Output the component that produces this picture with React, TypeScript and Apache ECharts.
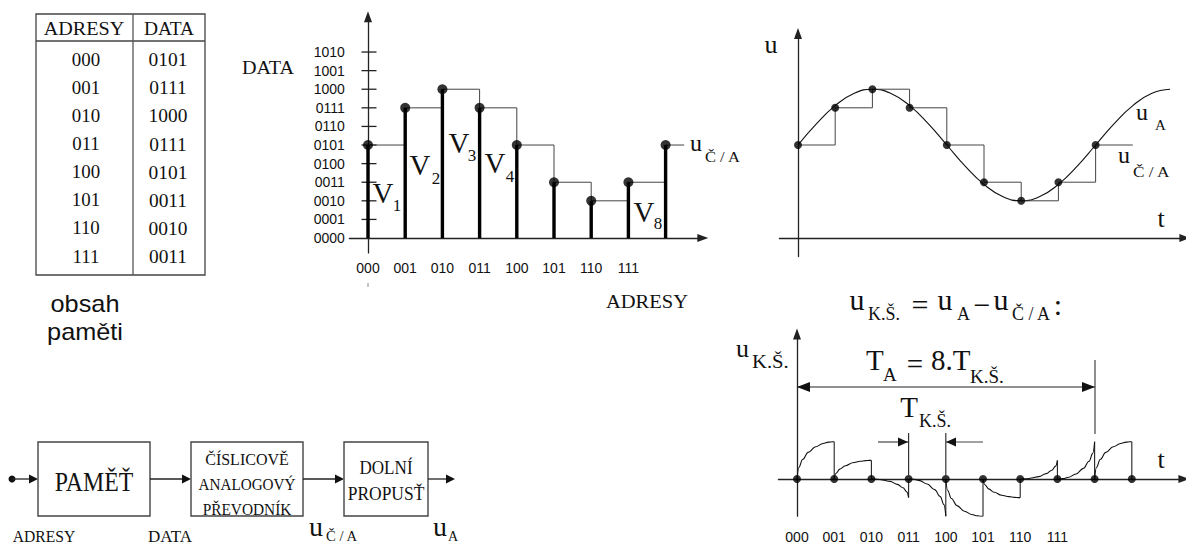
import React, { useEffect, useRef } from 'react';
import * as echarts from 'echarts';

// ---------------- data ----------------
const addresses = ['000', '001', '010', '011', '100', '101', '110', '111'];
const dataCodes = ['0101', '0111', '1000', '0111', '0101', '0011', '0010', '0011'];
const dataTickLabels = ['0000', '0001', '0010', '0011', '0100', '0101', '0110', '0111', '1000', '1001', '1010'];
const sampleTimes = [0, 1, 2, 3, 4, 5, 6, 7, 8];
const sampleValues = [5, 7, 8, 7, 5, 3, 2, 3, 5];
const stemTailTime = 8.5;
const dacTailTime = 9;
const sineTimes = [0, 0.5, 1, 1.5, 2, 2.5, 3, 3.5, 4, 4.5, 5, 5.5, 6, 6.5, 7, 7.5, 8, 8.5, 9, 9.5, 10];
const sineValues = [5, 6.15, 7.12, 7.77, 8, 7.77, 7.12, 6.15, 5, 3.85, 2.88, 2.23, 2, 2.23, 2.88, 3.85, 5, 6.15, 7.12, 7.77, 8];
const errOffsets = [0, 0.05, 0.15, 0.3, 0.5, 0.7, 0.85, 0.95, 1];
const errSeg0 = [0, 0.62, 1.05, 1.43, 1.73, 1.91, 1.98, 2.0, 2.0];
const errSeg1 = [0, 0.31, 0.53, 0.71, 0.87, 0.95, 0.99, 1.0, 1.0];
const errSeg2 = [0, 0, -0.01, -0.05, -0.13, -0.29, -0.47, -0.69, -1.0];
const errSeg3 = [0, 0, -0.02, -0.09, -0.27, -0.57, -0.95, -1.38, -2.0];
const errSeg4 = [0, -0.62, -1.05, -1.43, -1.73, -1.91, -1.98, -2.0, -2.0];
const errSeg5 = [0, -0.31, -0.53, -0.71, -0.87, -0.95, -0.99, -1.0, -1.0];
const errSeg6 = [0, 0, 0.01, 0.05, 0.13, 0.29, 0.47, 0.69, 1.0];
const errSeg7 = [0, 0, 0.02, 0.09, 0.27, 0.57, 0.95, 1.38, 2.0];
const errSeg8 = [0, 0.62, 1.05, 1.43, 1.73, 1.91, 1.98, 2.0, 2.0];
const errSegments = [errSeg0, errSeg1, errSeg2, errSeg3, errSeg4, errSeg5, errSeg6, errSeg7, errSeg8];
const errDotTimes = [0, 1, 2, 3, 4, 5, 6, 7, 8, 9];

// ---------------- styling helpers ----------------
const SERIF = '"Liberation Serif", "Times New Roman", serif';
const SANS = '"Liberation Sans", Arial, sans-serif';
const INK = '#111';
const LINE = '#333';

function T(text: string, x: number, y: number, size: number, o: any = {}) {
  const align = o.align ?? 'center';
  return {
    type: 'text', x, y, scaleX: o.sx ?? 1, silent: true, z: 100,
    style: {
      text, x: 0, y: 0, fill: INK, fontFamily: o.family ?? SERIF, fontSize: size,
      align, verticalAlign: 'middle', textAlign: align, textVerticalAlign: 'middle',
    },
  };
}
function L(x1: number, y1: number, x2: number, y2: number, w = 1.2, c = LINE) {
  return { type: 'line', silent: true, z: 100, shape: { x1, y1, x2, y2 }, style: { stroke: c, lineWidth: w } };
}
function arrowR(tx: number, ty: number, len = 9, h = 4.5) {
  return { type: 'polygon', silent: true, z: 100, shape: { points: [[tx, ty], [tx - len, ty - h], [tx - len, ty + h]] }, style: { fill: INK } };
}
function arrowL(tx: number, ty: number, len = 9, h = 4.5) {
  return { type: 'polygon', silent: true, z: 100, shape: { points: [[tx, ty], [tx + len, ty - h], [tx + len, ty + h]] }, style: { fill: INK } };
}
function R(x: number, y: number, w: number, h: number, lw = 1.4) {
  return { type: 'rect', silent: true, z: 100, shape: { x, y, width: w, height: h }, style: { fill: 'transparent', stroke: '#444', lineWidth: lw } };
}

function buildGraphic() {
  const g: any[] = [];
  // ---- memory table ----
  g.push(R(36, 14, 169, 261, 1.3));
  g.push(L(36, 41, 205, 41, 1.6, '#444'));
  g.push(L(133, 14, 133, 275, 1.3, '#555'));
  g.push(T('ADRESY', 84, 29, 18, { sx: 1.12 }));
  g.push(T('DATA', 169, 29, 18, { sx: 1.08 }));
  addresses.forEach((a, i) => {
    g.push(T(a, 86, 60 + i * 28.1, 18, { sx: 1.05 }));
    g.push(T(dataCodes[i], 168, 60 + i * 28.1, 18, { sx: 1.08 }));
  });
  g.push(T('obsah', 85, 303.5, 23, { family: SANS, sx: 1.1 }));
  g.push(T('paměti', 85, 332, 23, { family: SANS, sx: 1.1 }));

  // ---- stem chart labels ----
  g.push(T('DATA', 268, 68, 18, { sx: 1.12 }));
  g.push(T('ADRESY', 647, 301, 19, { sx: 1.08 }));
  g.push(L(368, 283, 368, 287, 1, '#888'));
  const vl = [['1', 383, 193, 397, 205], ['2', 420, 165, 436, 178], ['3', 459, 143, 472, 155], ['4', 495, 163, 510, 176], ['8', 644, 212, 658, 223]];
  vl.forEach((v: any) => {
    g.push(T('V', v[1], v[2], 29));
    g.push(T(v[0], v[3], v[4], 17));
  });
  g.push(T('u', 696, 142.5, 24));
  g.push(T('Č / A', 705, 157, 15, { align: 'left', sx: 1.1 }));

  // ---- sine chart labels ----
  g.push(T('u', 771, 44, 26));
  g.push(T('t', 1161, 218, 26));
  g.push(T('u', 1142, 111.5, 24));
  g.push(T('A', 1155, 125, 15, { align: 'left' }));
  g.push(T('u', 1124, 154.5, 24));
  g.push(T('Č / A', 1133, 172, 15, { align: 'left', sx: 1.15 }));

  // ---- error chart labels ----
  g.push(T('u', 857, 299, 30));
  g.push(T('K.Š.', 868, 314, 18, { align: 'left' }));
  g.push(T('=', 920, 304, 30));
  g.push(T('u', 945, 299, 30));
  g.push(T('A', 957, 314, 18, { align: 'left' }));
  g.push(T('−', 982, 304, 30));
  g.push(T('u', 1001, 299, 30));
  g.push(T('Č / A', 1012, 314, 18, { align: 'left' }));
  g.push(T(':', 1058, 304, 30));

  g.push(T('u', 742.5, 348, 26));
  g.push(T('K.Š.', 752, 362, 18, { align: 'left', sx: 1.15 }));
  g.push(T('t', 1161, 459, 26));

  g.push(T('T', 866, 360, 29, { align: 'left' }));
  g.push(T('A', 883, 374, 19, { align: 'left' }));
  g.push(T('=', 915, 364, 29));
  g.push(T('8.T', 931, 360, 29, { align: 'left' }));
  g.push(T('K.Š.', 970, 376, 19, { align: 'left' }));
  g.push(L(797, 387, 1095, 387, 1.2, '#222'));
  g.push(arrowL(797, 387, 13, 5));
  g.push(arrowR(1095, 387, 13, 5));
  g.push(L(1095, 360, 1095, 434, 1.2, '#444'));

  g.push(T('T', 909, 407, 29));
  g.push(T('K.Š.', 919, 421, 18, { align: 'left' }));
  g.push(L(878, 442, 908, 442, 1.2, '#444'));
  g.push(arrowR(908, 442, 10, 4.5));
  g.push(L(946, 442, 983, 442, 1.2, '#444'));
  g.push(arrowL(946, 442, 10, 4.5));
  g.push(L(908.6, 433, 908.6, 479, 1.2, '#333'));
  g.push(L(945.8, 433, 945.8, 479, 1.2, '#333'));

  // ---- block diagram ----
  g.push({ type: 'circle', silent: true, z: 100, shape: { cx: 12, cy: 479, r: 3.5 }, style: { fill: INK } });
  g.push(L(12, 479, 32, 479, 1.3, '#222'));
  g.push(arrowR(38, 479, 9, 4.5));
  g.push(R(38, 442, 112, 74));
  g.push(T('PAMĚŤ', 94, 482, 28, { sx: 0.85 }));
  g.push(L(150, 479, 185, 479, 1.3, '#222'));
  g.push(arrowR(191, 479, 9, 4.5));
  g.push(R(191, 442, 112, 74));
  g.push(T('ČÍSLICOVĚ', 247, 459, 16));
  g.push(T('ANALOGOVÝ', 247, 484, 16, { sx: 0.95 }));
  g.push(T('PŘEVODNÍK', 247, 509, 16, { sx: 0.96 }));
  g.push(L(303, 479, 338, 479, 1.3, '#222'));
  g.push(arrowR(344, 479, 9, 4.5));
  g.push(R(344, 442, 84, 74));
  g.push(T('DOLNÍ', 386, 468, 18, { sx: 0.95 }));
  g.push(T('PROPUSŤ', 386, 494, 18, { sx: 0.97 }));
  g.push(L(428, 479, 449, 479, 1.3, '#222'));
  g.push(arrowR(455, 479, 9, 4.5));
  g.push(T('ADRESY', 44, 536, 17, { sx: 0.92 }));
  g.push(T('DATA', 170, 536, 17));
  g.push(T('u', 316, 526.5, 28));
  g.push(T('Č / A', 326, 536, 14, { align: 'left', sx: 1.05 }));
  g.push(T('u', 440, 526.5, 28));
  g.push(T('A', 448, 536, 14, { align: 'left' }));
  return g;
}

const axisLineStyle = { color: '#222', width: 1.3 };
const arrowAxis = { onZero: true, lineStyle: axisLineStyle, symbol: ['none', 'triangle'], symbolSize: [8, 11] };

function buildOption() {
  const stemStep = sampleTimes.map((t, i) => [t, sampleValues[i]]).concat([[stemTailTime, sampleValues[sampleValues.length - 1]]]);
  const dacStep = sampleTimes.map((t, i) => [t, sampleValues[i]]).concat([[dacTailTime, sampleValues[sampleValues.length - 1]]]);
  const samples = sampleTimes.map((t, i) => [t, sampleValues[i]]);
  const sine = sineTimes.map((t, i) => [t, sineValues[i]]);
  const errSeries = errSegments.map((seg, k) => ({
    type: 'line', xAxisIndex: 2, yAxisIndex: 2, smooth: 0.4, smoothMonotone: 'x', showSymbol: false, silent: true,
    data: seg.map((v, j) => [k + errOffsets[j], v]),
    lineStyle: { color: '#111', width: 1.1 }, z: 3,
  }));
  const drops = errSegments.map((seg, k) => [k + 1, seg[seg.length - 1]]);

  const noSplit = { show: false };
  const labelStyle = { fontFamily: SANS, fontSize: 14, color: INK };

  return {
    animation: false,
    backgroundColor: '#fff',
    grid: [
      { left: 349.4, top: 16.7, width: 353.4, height: 236.2, outerBoundsMode: 'none' },
      { left: 779.4, top: 33.4, width: 405.5, height: 223.2, outerBoundsMode: 'none' },
      { left: 778.4, top: 333.9, width: 405.5, height: 182.3, outerBoundsMode: 'none' },
    ],
    xAxis: [
      {
        gridIndex: 0, type: 'value', min: -0.5, max: 9, axisLine: arrowAxis, axisTick: { show: false }, splitLine: noSplit,
        axisLabel: { ...labelStyle, customValues: [0, 1, 2, 3, 4, 5, 6, 7], formatter: (v: number) => addresses[Math.round(v)] ?? '', margin: 8 },
      },
      { gridIndex: 1, type: 'value', min: -0.5, max: 10.4, axisLine: arrowAxis, axisTick: { show: false }, splitLine: noSplit, axisLabel: { show: false } },
      {
        gridIndex: 2, type: 'value', min: -0.5, max: 10.4, axisLine: arrowAxis, axisTick: { show: false }, splitLine: noSplit,
        axisLabel: { ...labelStyle, customValues: [0, 1, 2, 3, 4, 5, 6, 7], formatter: (v: number) => addresses[Math.round(v)] ?? '', margin: 14 },
      },
    ],
    yAxis: [
      {
        gridIndex: 0, type: 'value', min: -0.8, max: 11.9, axisLine: arrowAxis, axisTick: { show: false }, splitLine: noSplit,
        axisLabel: { ...labelStyle, customValues: [0, 1, 2, 3, 4, 5, 6, 7, 8, 9, 10], formatter: (v: number) => dataTickLabels[Math.round(v)] ?? '', margin: 4.5 },
      },
      { gridIndex: 1, type: 'value', min: -1, max: 11, axisLine: arrowAxis, axisTick: { show: false }, splitLine: noSplit, axisLabel: { show: false } },
      { gridIndex: 2, type: 'value', min: -2, max: 7.8, axisLine: arrowAxis, axisTick: { show: false }, splitLine: noSplit, axisLabel: { show: false } },
    ],
    series: [
      // stem chart
      {
        type: 'custom', xAxisIndex: 0, yAxisIndex: 0, silent: true, z: 2,
        data: dataTickLabels.map((_, i) => [0, i]).slice(1),
        renderItem: (_p: any, api: any) => {
          const c = api.coord([api.value(0), api.value(1)]);
          return { type: 'line', shape: { x1: c[0] - 6.5, y1: c[1], x2: c[0] + 8.5, y2: c[1] }, style: { stroke: '#222', lineWidth: 1.3 } };
        },
      },
      { type: 'line', xAxisIndex: 0, yAxisIndex: 0, step: 'end', data: stemStep, showSymbol: false, silent: true, lineStyle: { color: '#444', width: 1 }, z: 2 },
      {
        type: 'custom', xAxisIndex: 0, yAxisIndex: 0, silent: true, z: 3, data: samples,
        renderItem: (_p: any, api: any) => {
          const a = api.coord([api.value(0), 0]);
          const b = api.coord([api.value(0), api.value(1)]);
          return { type: 'line', shape: { x1: a[0], y1: a[1], x2: b[0], y2: b[1] }, style: { stroke: '#000', lineWidth: 3.4 } };
        },
      },
      { type: 'scatter', xAxisIndex: 0, yAxisIndex: 0, data: samples, symbolSize: 10, itemStyle: { color: '#000' }, silent: true, z: 4 },
      // sine chart
      { type: 'line', xAxisIndex: 1, yAxisIndex: 1, data: sine, smooth: true, showSymbol: false, silent: true, lineStyle: { color: '#111', width: 1.1 }, z: 2 },
      { type: 'line', xAxisIndex: 1, yAxisIndex: 1, step: 'end', data: dacStep, showSymbol: false, silent: true, lineStyle: { color: '#444', width: 1 }, z: 2 },
      { type: 'scatter', xAxisIndex: 1, yAxisIndex: 1, data: samples, symbolSize: 8, itemStyle: { color: '#000' }, silent: true, z: 4 },
      // error chart
      ...errSeries,
      {
        type: 'custom', xAxisIndex: 2, yAxisIndex: 2, silent: true, z: 3, data: drops,
        renderItem: (_p: any, api: any) => {
          const a = api.coord([api.value(0), 0]);
          const b = api.coord([api.value(0), api.value(1)]);
          return { type: 'line', shape: { x1: a[0], y1: a[1], x2: b[0], y2: b[1] }, style: { stroke: '#222', lineWidth: 1.1 } };
        },
      },
      { type: 'scatter', xAxisIndex: 2, yAxisIndex: 2, data: errDotTimes.map((t) => [t, 0]), symbolSize: 8, itemStyle: { color: '#000' }, silent: true, z: 4 },
    ],
    graphic: buildGraphic(),
  };
}

export default function App() {
  const ref = useRef<HTMLDivElement>(null);
  useEffect(() => {
    if (!ref.current) return;
    const chart = echarts.init(ref.current, undefined, { renderer: 'svg' });
    chart.setOption(buildOption() as any);
    return () => chart.dispose();
  }, []);
  return <div ref={ref} style={{ position: 'absolute', left: 0, top: 0, width: 1186, height: 545, background: '#fff' }} />;
}
